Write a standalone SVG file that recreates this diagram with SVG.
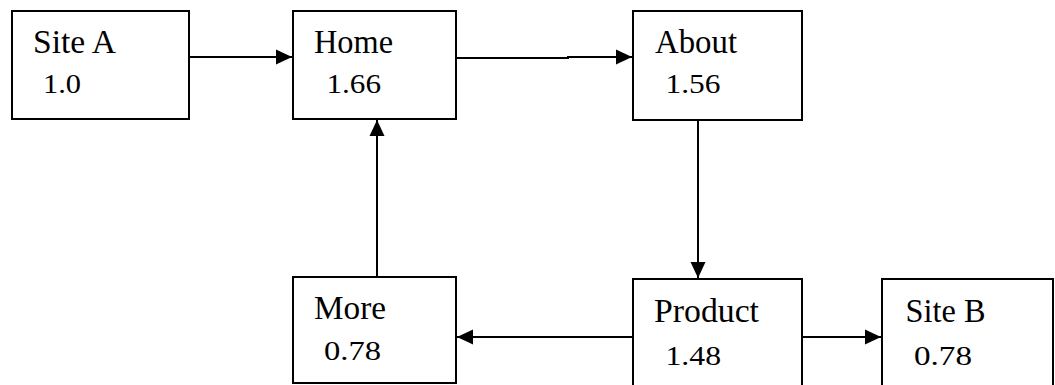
<svg xmlns="http://www.w3.org/2000/svg" width="1055" height="385" viewBox="0 0 1055 385">
<style>
.box{fill:#fff;stroke:#000;stroke-width:2}
.name{font-family:"Liberation Serif",serif;font-size:34px;fill:#000}
.num{font-family:"Liberation Serif",serif;font-size:28px;fill:#000}
.edge{fill:none;stroke:#000;stroke-width:2}
</style>
<defs>
<marker id="ah" markerUnits="userSpaceOnUse" markerWidth="17" markerHeight="17" viewBox="0 0 17 17" refX="16" refY="8.5" orient="auto">
<path d="M0,1 L16,8.5 L0,16 z" fill="#000"/>
</marker>
</defs>
<rect width="1055" height="385" fill="#fff"/>
<g id="connectors">
<path class="edge" d="M189,57 H292" marker-end="url(#ah)"/>
<path class="edge" d="M456,58 H568 V57 H632" marker-end="url(#ah)"/>
<path class="edge" d="M698,120 V278" marker-end="url(#ah)"/>
<path class="edge" d="M377,277 V120" marker-end="url(#ah)"/>
<path class="edge" d="M633,337 H457" marker-end="url(#ah)"/>
<path class="edge" d="M802,337 H881" marker-end="url(#ah)"/>
</g>
<g id="siteA">
<rect class="box" x="12" y="11" width="177" height="108"/>
<text class="name" x="33" y="52.5" textLength="83" lengthAdjust="spacingAndGlyphs">Site A</text>
<text class="num" x="43" y="92.5" textLength="38" lengthAdjust="spacingAndGlyphs">1.0</text>
</g>
<g id="home">
<rect class="box" x="293" y="11" width="163" height="108"/>
<text class="name" x="314" y="52.5" textLength="79" lengthAdjust="spacingAndGlyphs">Home</text>
<text class="num" x="326.5" y="92.5" textLength="54.5" lengthAdjust="spacingAndGlyphs">1.66</text>
</g>
<g id="about">
<rect class="box" x="633" y="11" width="169" height="109"/>
<text class="name" x="655" y="52.5" textLength="82" lengthAdjust="spacingAndGlyphs">About</text>
<text class="num" x="665.5" y="92.5" textLength="55" lengthAdjust="spacingAndGlyphs">1.56</text>
</g>
<g id="more">
<rect class="box" x="293" y="277" width="163" height="106"/>
<text class="name" x="314" y="318.5" textLength="72" lengthAdjust="spacingAndGlyphs">More</text>
<text class="num" x="324" y="359.5" textLength="57" lengthAdjust="spacingAndGlyphs">0.78</text>
</g>
<g id="product">
<rect class="box" x="633" y="279" width="169" height="120"/>
<text class="name" x="654" y="321.5" textLength="105" lengthAdjust="spacingAndGlyphs">Product</text>
<text class="num" x="665.5" y="365" textLength="55.5" lengthAdjust="spacingAndGlyphs">1.48</text>
</g>
<g id="siteB">
<rect class="box" x="882" y="279" width="171" height="120"/>
<text class="name" x="905.5" y="321.5" textLength="80" lengthAdjust="spacingAndGlyphs">Site B</text>
<text class="num" x="914" y="365" textLength="58" lengthAdjust="spacingAndGlyphs">0.78</text>
</g>
</svg>
